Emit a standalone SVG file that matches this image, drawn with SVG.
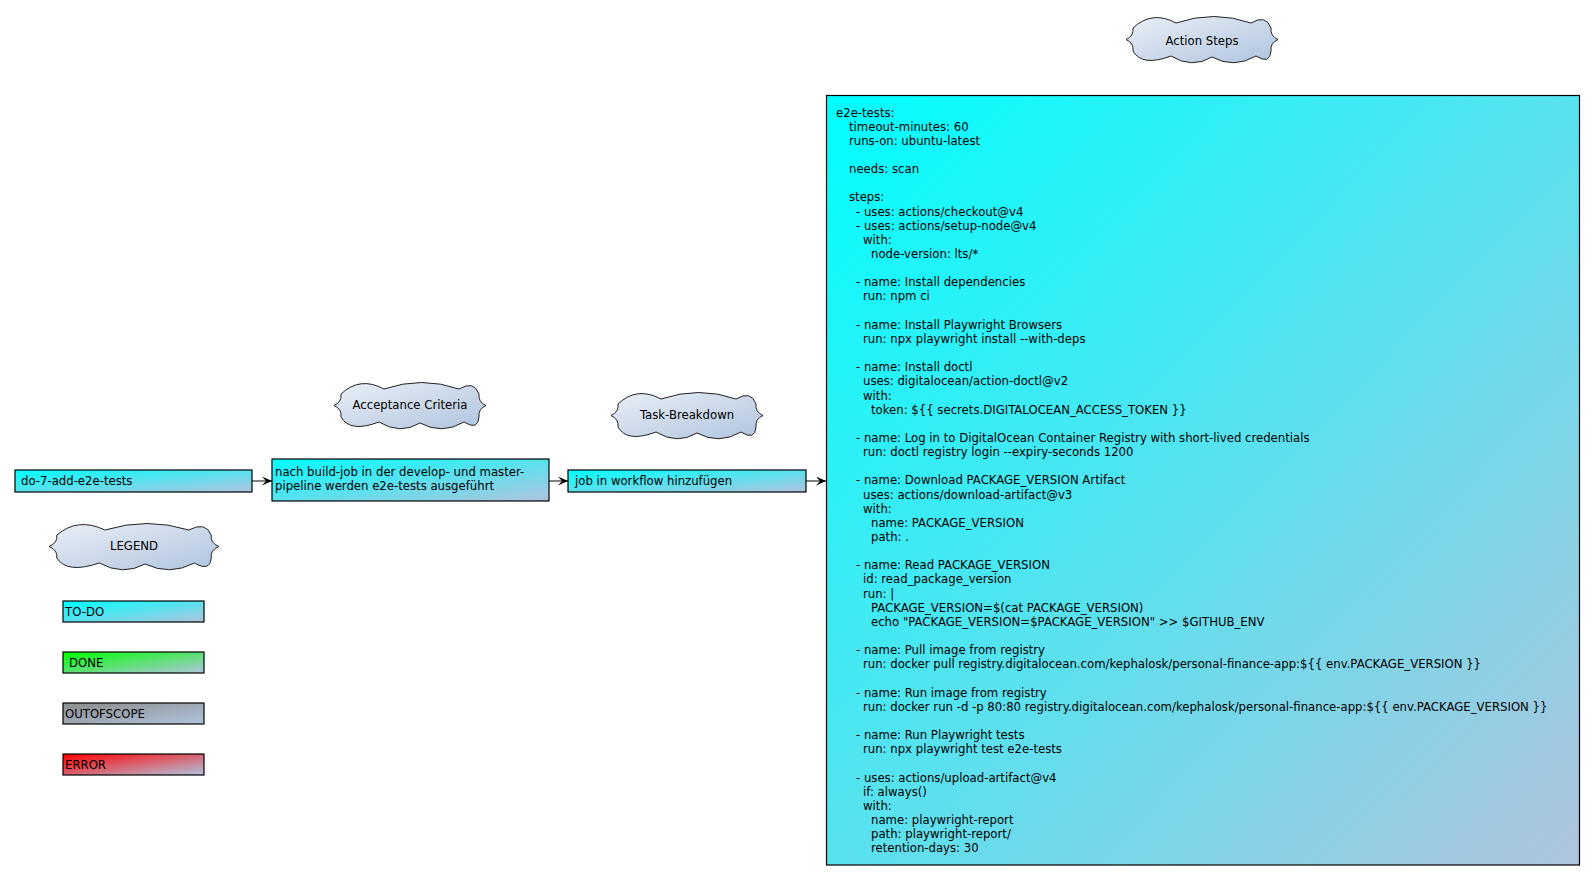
<svg xmlns="http://www.w3.org/2000/svg" width="1596" height="881" viewBox="0 0 1596 881">
<style>
text{font-family:"DejaVu Sans","Liberation Sans",sans-serif;font-size:11.7px;fill:#000}
.box{stroke:#000;stroke-width:1.2}
.cloud{fill:url(#gCloud);stroke:#222;stroke-width:1}
.ct{text-anchor:middle}
.conn{stroke:#000;stroke-width:1;fill:none;marker-end:url(#arr)}
</style>
<defs>
<linearGradient id="gTodo" x1="0" y1="0" x2="1" y2="1"><stop offset="0" stop-color="#00FFFF"/><stop offset="1" stop-color="#B0C4DE"/></linearGradient>
<linearGradient id="gDone" x1="0" y1="0" x2="1" y2="1"><stop offset="0" stop-color="#00FF00"/><stop offset="1" stop-color="#B0C4DE"/></linearGradient>
<linearGradient id="gOut" x1="0" y1="0" x2="1" y2="1"><stop offset="0" stop-color="#8C8C8C"/><stop offset="1" stop-color="#B0C4DE"/></linearGradient>
<linearGradient id="gErr" x1="0" y1="0" x2="1" y2="1"><stop offset="0" stop-color="#FF0000"/><stop offset="1" stop-color="#B0C4DE"/></linearGradient>
<linearGradient id="gCloud" x1="0" y1="0" x2="1" y2="1"><stop offset="0" stop-color="#EAEFF7"/><stop offset="1" stop-color="#B0C4DE"/></linearGradient>
<marker id="arr" viewBox="0 0 10 9" refX="10" refY="4.5" markerWidth="10" markerHeight="9" markerUnits="userSpaceOnUse" orient="auto">
<path d="M0,0 L10,4.5 L0,9 L4,4.5 Z" fill="#000"/>
</marker>
<path id="cloud152" d="M0,22.5 Q8,19 7,11 Q26,-7 50,6 Q88,-7 125,6 Q140,-3 145,11 Q144,19 152,22.5 Q144,26 145,34 Q144,48 130,39 Q108,52 86,40 Q66,52 45,39 Q16,50 7,34 Q8,26 0,22.5 Z"/>
</defs>
<rect width="1596" height="881" fill="#fff"/>

<g id="connectors">
<line class="conn" x1="252" y1="481" x2="272" y2="481"/>
<line class="conn" x1="549" y1="481" x2="568" y2="481"/>
<line class="conn" x1="806" y1="481" x2="826" y2="481"/>
</g>

<g id="cloud-acceptance">
<use href="#cloud152" class="cloud" transform="translate(334,383)"/>
<text class="ct" x="410" y="409">Acceptance Criteria</text>
</g>
<g id="cloud-task">
<use href="#cloud152" class="cloud" transform="translate(611,393)"/>
<text class="ct" x="687" y="419">Task-Breakdown</text>
</g>
<g id="cloud-action">
<use href="#cloud152" class="cloud" transform="translate(1126,17)"/>
<text class="ct" x="1202" y="44.5">Action Steps</text>
</g>
<g id="cloud-legend">
<path class="cloud" transform="translate(49,524)" d="M0,22.5 Q8.9,19 7.8,11 Q29.1,-7 55.9,6 Q98.4,-7 139.8,6 Q156.6,-3 162.2,11 Q161,19 170,22.5 Q161,26 162.2,34 Q161,48 145.4,39 Q120.8,52 96.2,40 Q73.8,52 50.3,39 Q17.9,50 7.8,34 Q8.9,26 0,22.5 Z"/>
<text class="ct" x="134" y="550">LEGEND</text>
</g>

<g id="node-do7">
<rect class="box" x="15" y="470" width="237" height="22" fill="url(#gTodo)"/>
<text x="21" y="485">do-7-add-e2e-tests</text>
</g>
<g id="node-acceptance">
<rect class="box" x="272" y="459" width="277" height="42" fill="url(#gTodo)"/>
<text x="275" y="476">nach build-job in der develop- und master-</text>
<text x="275" y="490">pipeline werden e2e-tests ausgeführt</text>
</g>
<g id="node-task">
<rect class="box" x="568" y="470" width="238" height="22" fill="url(#gTodo)"/>
<text x="575" y="485">job in workflow hinzufügen</text>
</g>

<g id="node-action">
<rect class="box" x="826.5" y="95.5" width="753" height="769.5" fill="url(#gTodo)"/>
<text x="836" y="116.5">e2e-tests:</text>
<text x="849" y="130.65">timeout-minutes: 60</text>
<text x="849" y="144.8">runs-on: ubuntu-latest</text>
<text x="849" y="173.1">needs: scan</text>
<text x="849" y="201.4">steps:</text>
<text x="856" y="215.55">- uses: actions/checkout@v4</text>
<text x="856" y="229.7">- uses: actions/setup-node@v4</text>
<text x="863" y="243.85">with:</text>
<text x="871" y="258">node-version: lts/*</text>
<text x="856" y="286.3">- name: Install dependencies</text>
<text x="863" y="300.45">run: npm ci</text>
<text x="856" y="328.75">- name: Install Playwright Browsers</text>
<text x="863" y="342.9">run: npx playwright install --with-deps</text>
<text x="856" y="371.2">- name: Install doctl</text>
<text x="863" y="385.35">uses: digitalocean/action-doctl@v2</text>
<text x="863" y="399.5">with:</text>
<text x="871" y="413.65">token: ${{ secrets.DIGITALOCEAN_ACCESS_TOKEN }}</text>
<text x="856" y="441.95">- name: Log in to DigitalOcean Container Registry with short-lived credentials</text>
<text x="863" y="456.1">run: doctl registry login --expiry-seconds 1200</text>
<text x="856" y="484.4">- name: Download PACKAGE_VERSION Artifact</text>
<text x="863" y="498.55">uses: actions/download-artifact@v3</text>
<text x="863" y="512.7">with:</text>
<text x="871" y="526.85">name: PACKAGE_VERSION</text>
<text x="871" y="541">path: .</text>
<text x="856" y="569.3">- name: Read PACKAGE_VERSION</text>
<text x="863" y="583.45">id: read_package_version</text>
<text x="863" y="597.6">run: |</text>
<text x="871" y="611.75">PACKAGE_VERSION=$(cat PACKAGE_VERSION)</text>
<text x="871" y="625.9">echo "PACKAGE_VERSION=$PACKAGE_VERSION" &gt;&gt; $GITHUB_ENV</text>
<text x="856" y="654.2">- name: Pull image from registry</text>
<text x="863" y="668.35">run: docker pull registry.digitalocean.com/kephalosk/personal-finance-app:${{ env.PACKAGE_VERSION }}</text>
<text x="856" y="696.65">- name: Run image from registry</text>
<text x="863" y="710.8">run: docker run -d -p 80:80 registry.digitalocean.com/kephalosk/personal-finance-app:${{ env.PACKAGE_VERSION }}</text>
<text x="856" y="739.1">- name: Run Playwright tests</text>
<text x="863" y="753.25">run: npx playwright test e2e-tests</text>
<text x="856" y="781.55">- uses: actions/upload-artifact@v4</text>
<text x="863" y="795.7">if: always()</text>
<text x="863" y="809.85">with:</text>
<text x="871" y="824">name: playwright-report</text>
<text x="871" y="838.15">path: playwright-report/</text>
<text x="871" y="852.3">retention-days: 30</text>
</g>

<g id="legend-todo">
<rect class="box" x="63" y="601" width="141" height="21" fill="url(#gTodo)"/>
<text x="65" y="616">TO-DO</text>
</g>
<g id="legend-done">
<rect class="box" x="63" y="652" width="141" height="21" fill="url(#gDone)"/>
<text x="69" y="667">DONE</text>
</g>
<g id="legend-outofscope">
<rect class="box" x="63" y="703" width="141" height="21" fill="url(#gOut)"/>
<text x="65" y="718">OUTOFSCOPE</text>
</g>
<g id="legend-error">
<rect class="box" x="63" y="754" width="141" height="21" fill="url(#gErr)"/>
<text x="65" y="769">ERROR</text>
</g>
</svg>
